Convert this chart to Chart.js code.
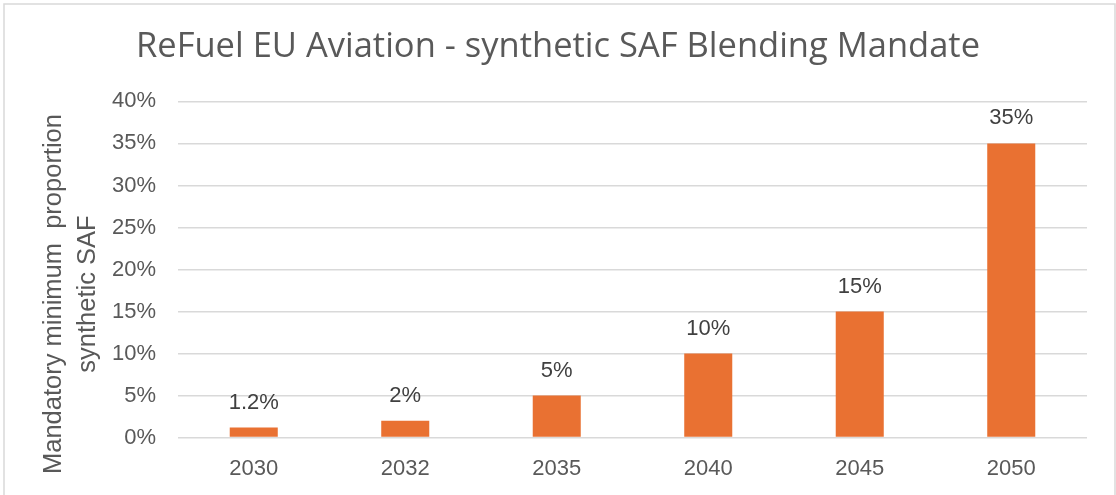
<!DOCTYPE html>
<html>
<head>
<meta charset="utf-8">
<style>
  html, body { margin: 0; padding: 0; background: #ffffff; }
  #wrap { width: 1116px; height: 495px; position: relative; }
</style>
<script src="https://cdn.jsdelivr.net/npm/chart.js@4.4.1/dist/chart.umd.min.js"></script>
</head>
<body>
<div id="wrap"><canvas id="c" width="1116" height="495"></canvas></div>
<script>
// Mandate years and minimum synthetic SAF share (%)
const years = ['2030', '2032', '2035', '2040', '2045', '2050'];
const shares = [1.2, 2, 5, 10, 15, 35];
const valueLabels = ['1.2%', '2%', '5%', '10%', '15%', '35%'];
const yTitleLines = ['Mandatory minimum  proportion', 'synthetic SAF'];

const FONT = "'Liberation Sans', Arial, sans-serif";

// Outer frame around the whole chart
const framePlugin = {
  id: 'frame',
  beforeDraw(chart) {
    const ctx = chart.ctx;
    ctx.save();
    ctx.fillStyle = '#ffffff';
    ctx.fillRect(0, 0, chart.width, chart.height);
    ctx.strokeStyle = '#d9d9d9';
    ctx.lineWidth = 1.5;
    ctx.strokeRect(4, 4, chart.width - 5, chart.height + 10);
    ctx.restore();
  }
};

// Rotated two-line title for the value axis
const yTitlePlugin = {
  id: 'yTitle',
  afterDraw(chart) {
    const ctx = chart.ctx;
    ctx.save();
    ctx.translate(54, 294);
    ctx.rotate(-Math.PI / 2);
    ctx.font = '25.5px ' + FONT;
    ctx.fillStyle = '#595959';
    ctx.textAlign = 'center';
    ctx.textBaseline = 'middle';
    yTitleLines.forEach((line, i) => ctx.fillText(line, 0, i * 34));
    ctx.restore();
  }
};

// Value labels written above each bar
const valueLabelPlugin = {
  id: 'valueLabels',
  afterDatasetsDraw(chart) {
    const ctx = chart.ctx;
    const meta = chart.getDatasetMeta(0);
    ctx.save();
    ctx.font = '22px ' + FONT;
    ctx.fillStyle = '#404040';
    ctx.textAlign = 'center';
    ctx.textBaseline = 'middle';
    meta.data.forEach((bar, i) => {
      ctx.fillText(valueLabels[i], bar.x, bar.y - 25);
    });
    ctx.restore();
  }
};

new Chart(document.getElementById('c'), {
  type: 'bar',
  data: {
    labels: years,
    datasets: [{
      data: shares,
      backgroundColor: '#E97132',
      borderWidth: 0,
      categoryPercentage: 1,
      barPercentage: 0.317
    }]
  },
  options: {
    responsive: false,
    animation: false,
    events: [],
    layout: { padding: { left: 29, right: 29, top: 0, bottom: 3 } },
    plugins: {
      legend: { display: false },
      tooltip: { enabled: false },
      title: {
        display: true,
        text: 'ReFuel EU Aviation - synthetic SAF Blending Mandate',
        color: '#595959',
        font: { family: "'Open Sans', 'Liberation Sans', sans-serif", size: 34.5, weight: 'normal' },
        padding: { top: 26, bottom: 34 }
      }
    },
    scales: {
      x: {
        grid: { display: false },
        border: { display: false },
        ticks: {
          color: '#595959',
          font: { family: FONT, size: 22 },
          padding: 10
        }
      },
      y: {
        min: 0,
        max: 40,
        ticks: {
          stepSize: 5,
          color: '#595959',
          font: { family: FONT, size: 22 },
          padding: 22,
          callback: v => v + '%'
        },
        grid: { color: '#d9d9d9', lineWidth: 1.5, drawTicks: false },
        border: { display: false },
        afterFit(scale) { scale.width = 149; }
      }
    }
  },
  plugins: [framePlugin, yTitlePlugin, valueLabelPlugin]
});
</script>
</body>
</html>
